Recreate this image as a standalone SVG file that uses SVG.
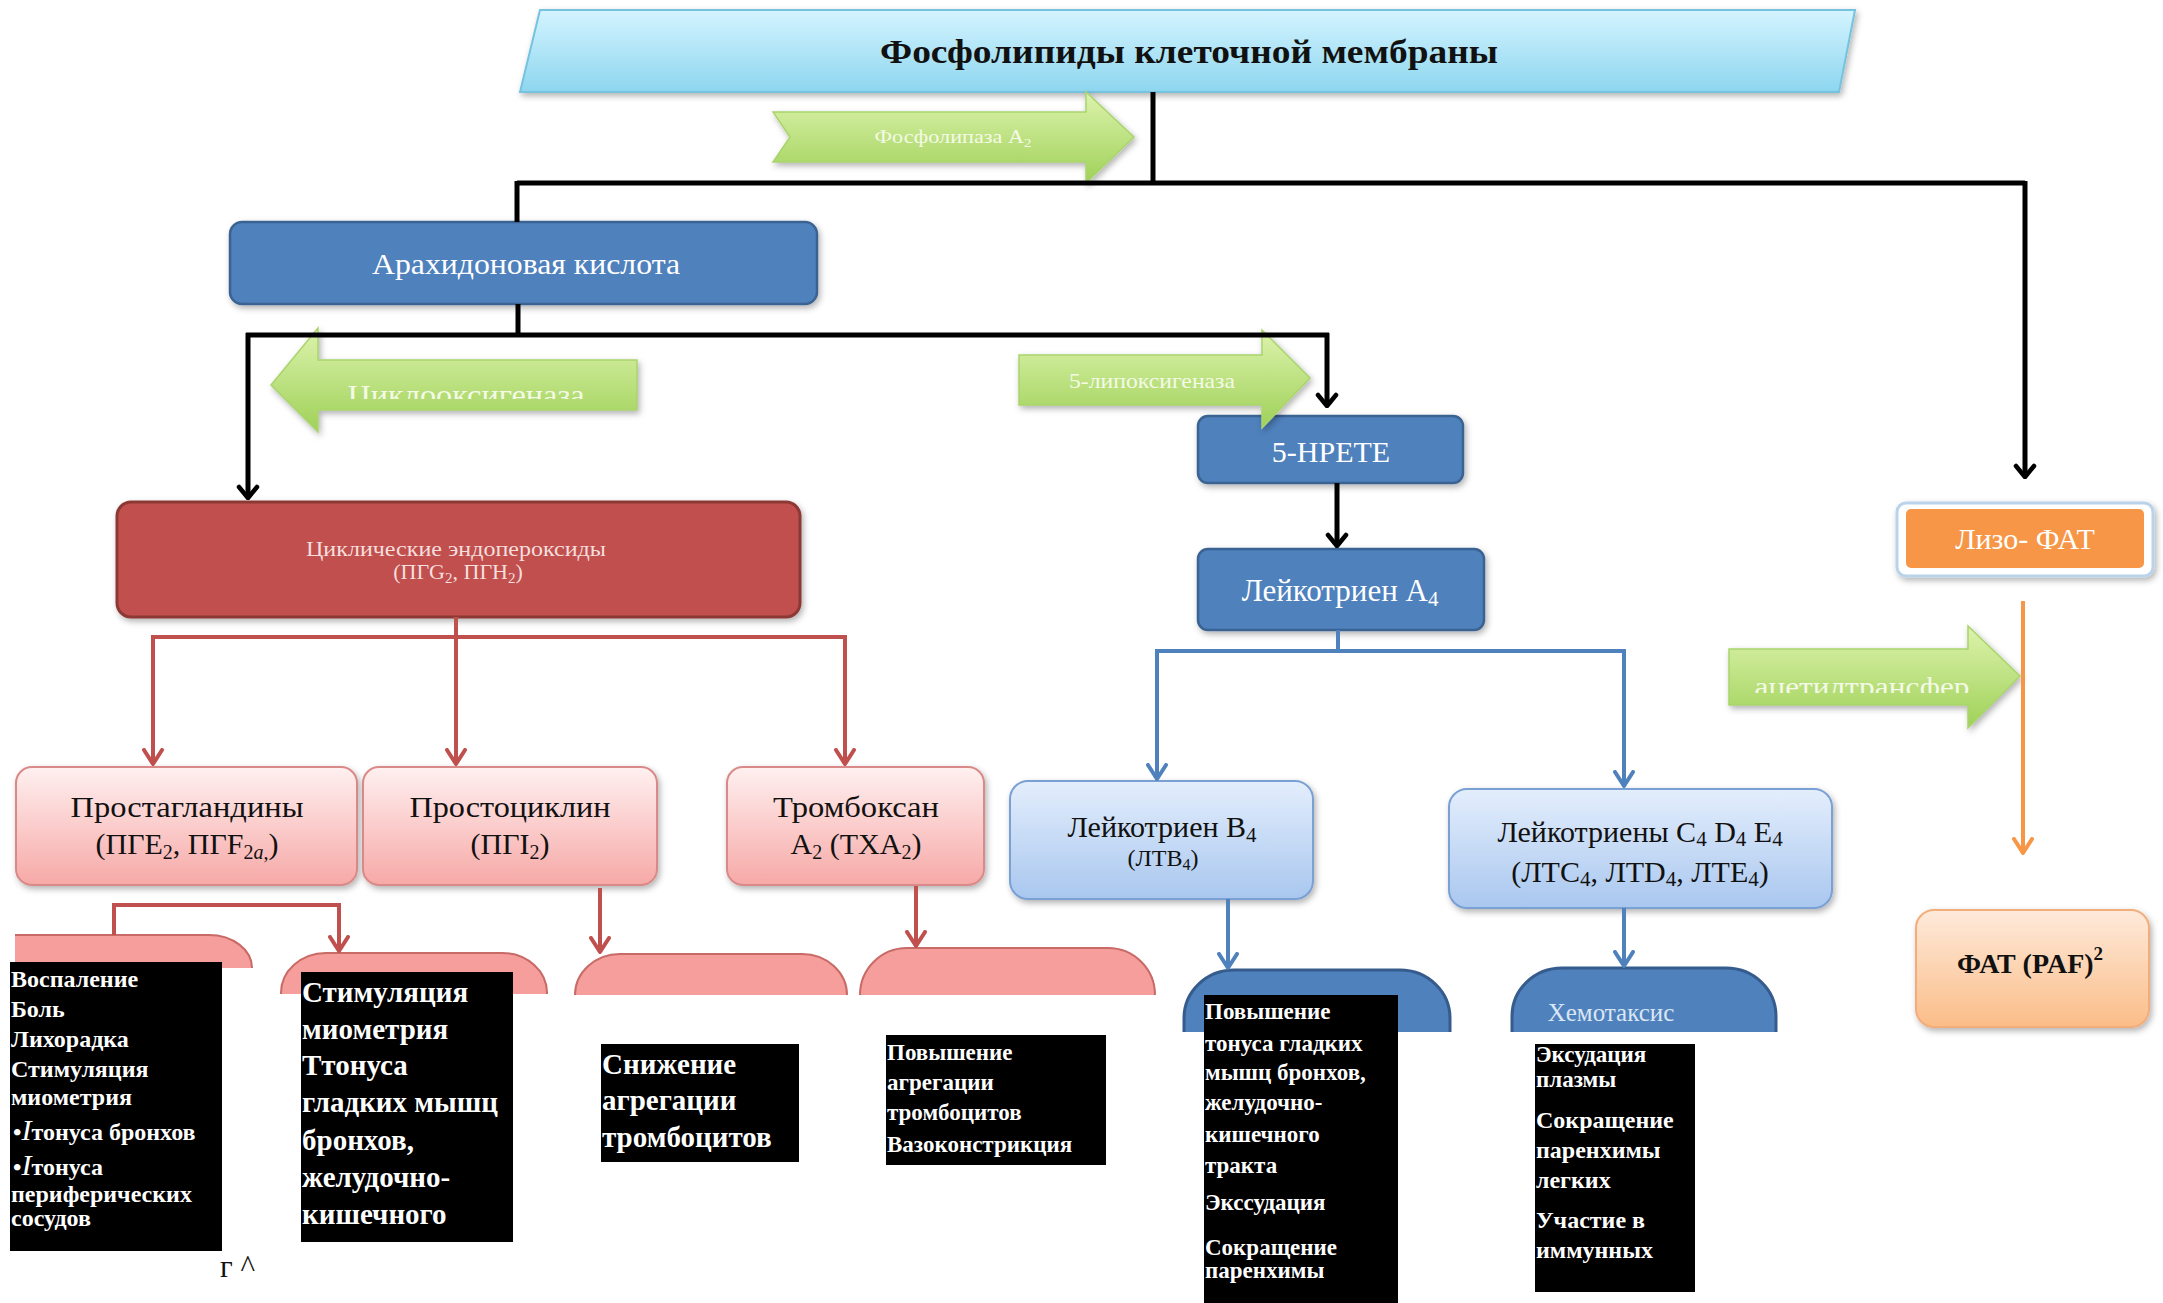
<svg xmlns="http://www.w3.org/2000/svg" width="2163" height="1303" viewBox="0 0 2163 1303">
<defs>
  <linearGradient id="gBanner" x1="0" y1="0" x2="0" y2="1"><stop offset="0" stop-color="#d4f4ff"/><stop offset="1" stop-color="#8dd6ef"/></linearGradient>
  <linearGradient id="gGreen" x1="0" y1="0" x2="0" y2="1"><stop offset="0" stop-color="#ddf3ad"/><stop offset="1" stop-color="#9fd158"/></linearGradient>
  <linearGradient id="gPink" x1="0" y1="0" x2="0" y2="1"><stop offset="0" stop-color="#fff0f0"/><stop offset="1" stop-color="#f6a9a7"/></linearGradient>
  <linearGradient id="gLBlue" x1="0" y1="0" x2="0" y2="1"><stop offset="0" stop-color="#e4eefc"/><stop offset="1" stop-color="#a9c7ef"/></linearGradient>
  <linearGradient id="gPaf" x1="0" y1="0" x2="0" y2="1"><stop offset="0" stop-color="#feeadb"/><stop offset="1" stop-color="#fbbd88"/></linearGradient>
  <filter id="sh" x="-10%" y="-10%" width="120%" height="130%"><feDropShadow dx="2" dy="3" stdDeviation="3" flood-color="#000" flood-opacity="0.3"/></filter>
  <marker id="mBk" viewBox="-14 -12 16 24" markerWidth="16" markerHeight="24" markerUnits="userSpaceOnUse" orient="auto" refX="0" refY="0"><path d="M-11,-9 L0,0 L-11,9" fill="none" stroke="#000" stroke-width="4.5" stroke-linecap="round" stroke-linejoin="round"/></marker>
  <marker id="mRd" viewBox="-16 -12 18 24" markerWidth="18" markerHeight="24" markerUnits="userSpaceOnUse" orient="auto" refX="0" refY="0"><path d="M-14,-9 L0,0 L-14,9" fill="none" stroke="#c0504d" stroke-width="4" stroke-linecap="round" stroke-linejoin="round"/></marker>
  <marker id="mBl" viewBox="-16 -12 18 24" markerWidth="18" markerHeight="24" markerUnits="userSpaceOnUse" orient="auto" refX="0" refY="0"><path d="M-14,-9 L0,0 L-14,9" fill="none" stroke="#4f81bd" stroke-width="4" stroke-linecap="round" stroke-linejoin="round"/></marker>
  <marker id="mOr" viewBox="-16 -12 18 24" markerWidth="18" markerHeight="24" markerUnits="userSpaceOnUse" orient="auto" refX="0" refY="0"><path d="M-14,-9 L0,0 L-14,9" fill="none" stroke="#f79646" stroke-width="4" stroke-linecap="round" stroke-linejoin="round"/></marker>
  <clipPath id="cCyc"><rect x="318" y="360" width="319" height="39"/></clipPath>
  <clipPath id="cAce"><rect x="1729" y="649" width="300" height="44"/></clipPath>
</defs>
<style>
  text { font-family: "Liberation Serif", "Times New Roman", serif; }
  .dk { fill: #4f81bd; stroke: #3a6392; stroke-width: 2.5; }
  .pk { fill: url(#gPink); stroke: #d98a88; stroke-width: 2; }
  .lb { fill: url(#gLBlue); stroke: #7aa0d4; stroke-width: 2; }
  .gr { fill: url(#gGreen); stroke: #a9d46c; stroke-width: 1.5; }
  .tab { fill: #f59e9b; }
  .tabs { fill: none; stroke: #c86a66; stroke-width: 2; }
  .btab { fill: #4f81bd; }
  .btabs { fill: none; stroke: #355c8c; stroke-width: 3; }
  .wt { fill: #ffffff; }
  .dt { fill: #111111; }
  .et { fill: #f4fae6; }
  .blk { fill: #000000; }
  .bt { fill: #ffffff; font-weight: bold; }
  .kb { stroke: #000; stroke-width: 5; fill: none; }
  .kr { stroke: #c0504d; stroke-width: 4; fill: none; }
  .kl { stroke: #4f81bd; stroke-width: 4; fill: none; }
  .ko { stroke: #f79646; stroke-width: 4; fill: none; }
</style>
<rect width="2163" height="1303" fill="#ffffff"/>

<g id="nodes">
  <g id="n-phospholipids">
    <polygon points="540,10 1855,10 1839,92 520,92" fill="url(#gBanner)" stroke="#74c3df" stroke-width="2" filter="url(#sh)"/>
    <text x="1189" y="63" font-size="34" font-weight="bold" text-anchor="middle" class="dt" textLength="618" lengthAdjust="spacingAndGlyphs">Фосфолипиды клеточной мембраны</text>
  </g>
  <g id="n-arachidonic">
    <rect x="230" y="222" width="587" height="82" rx="12" class="dk" filter="url(#sh)"/>
    <text x="526" y="274" font-size="30" text-anchor="middle" class="wt" textLength="308" lengthAdjust="spacingAndGlyphs">Арахидоновая кислота</text>
  </g>
  <g id="n-hpete">
    <rect x="1198" y="416" width="265" height="67" rx="10" class="dk" filter="url(#sh)"/>
    <text x="1331" y="462" font-size="30" text-anchor="middle" class="wt">5-HPETE</text>
  </g>
  <g id="n-lta4">
    <rect x="1198" y="549" width="286" height="81" rx="10" class="dk" filter="url(#sh)"/>
    <text x="1340" y="601" font-size="31" text-anchor="middle" class="wt">Лейкотриен A<tspan font-size="21" dy="5">4</tspan></text>
  </g>
  <g id="n-cyclic">
    <rect x="117" y="502" width="683" height="115" rx="14" fill="#c0504d" stroke="#8c3836" stroke-width="3" filter="url(#sh)"/>
    <text x="456" y="556" font-size="22" text-anchor="middle" fill="#f5dedd" textLength="300" lengthAdjust="spacingAndGlyphs">Циклические эндопероксиды</text>
    <text x="458" y="579" font-size="22" text-anchor="middle" fill="#f5dedd">(ПГG<tspan font-size="15" dy="4">2</tspan><tspan dy="-4">, ПГН</tspan><tspan font-size="15" dy="4">2</tspan><tspan dy="-4">)</tspan></text>
  </g>
  <g id="n-pg">
    <rect x="16" y="767" width="341" height="118" rx="16" class="pk" filter="url(#sh)"/>
    <text x="187" y="817" font-size="30" text-anchor="middle" class="dt" textLength="233" lengthAdjust="spacingAndGlyphs">Простагландины</text>
    <text x="187" y="854" font-size="30" text-anchor="middle" class="dt">(ПГE<tspan font-size="20" dy="5">2</tspan><tspan dy="-5">, ПГF</tspan><tspan font-size="20" dy="5">2<tspan font-style="italic">a</tspan>,</tspan><tspan dy="-5">)</tspan></text>
  </g>
  <g id="n-pgi">
    <rect x="363" y="767" width="294" height="118" rx="16" class="pk" filter="url(#sh)"/>
    <text x="510" y="817" font-size="30" text-anchor="middle" class="dt" textLength="201" lengthAdjust="spacingAndGlyphs">Простоциклин</text>
    <text x="510" y="854" font-size="30" text-anchor="middle" class="dt">(ПГI<tspan font-size="20" dy="5">2</tspan><tspan dy="-5">)</tspan></text>
  </g>
  <g id="n-txa">
    <rect x="727" y="767" width="257" height="118" rx="16" class="pk" filter="url(#sh)"/>
    <text x="856" y="817" font-size="30" text-anchor="middle" class="dt" textLength="166" lengthAdjust="spacingAndGlyphs">Тромбоксан</text>
    <text x="856" y="854" font-size="30" text-anchor="middle" class="dt">A<tspan font-size="20" dy="5">2</tspan><tspan dy="-5"> (TXA</tspan><tspan font-size="20" dy="5">2</tspan><tspan dy="-5">)</tspan></text>
  </g>
  <g id="n-ltb4">
    <rect x="1010" y="781" width="303" height="118" rx="18" class="lb" filter="url(#sh)"/>
    <text x="1162" y="837" font-size="30" text-anchor="middle" class="dt">Лейкотриен B<tspan font-size="21" dy="5">4</tspan></text>
    <text x="1163" y="866" font-size="24" text-anchor="middle" class="dt">(ЛТВ<tspan font-size="16" dy="4">4</tspan><tspan dy="-4">)</tspan></text>
  </g>
  <g id="n-ltc4">
    <rect x="1449" y="789" width="383" height="119" rx="18" class="lb" filter="url(#sh)"/>
    <text x="1640" y="842" font-size="30" text-anchor="middle" class="dt">Лейкотриены C<tspan font-size="21" dy="4">4</tspan><tspan dy="-4"> D</tspan><tspan font-size="21" dy="4">4</tspan><tspan dy="-4"> E</tspan><tspan font-size="21" dy="4">4</tspan></text>
    <text x="1640" y="882" font-size="30" text-anchor="middle" class="dt">(ЛТС<tspan font-size="21" dy="4">4</tspan><tspan dy="-4">, ЛТD</tspan><tspan font-size="21" dy="4">4</tspan><tspan dy="-4">, ЛТE</tspan><tspan font-size="21" dy="4">4</tspan><tspan dy="-4">)</tspan></text>
  </g>
  <g id="n-lysopaf">
    <rect x="1897" y="503" width="256" height="73" rx="9" fill="#ffffff" stroke="#b9d3ea" stroke-width="3" filter="url(#sh)"/>
    <rect x="1906" y="509" width="238" height="59" rx="5" fill="#f79646"/>
    <text x="2025" y="549" font-size="30" text-anchor="middle" class="wt">Лизо- ФАТ</text>
  </g>
  <g id="n-paf">
    <rect x="1916" y="910" width="233" height="117" rx="18" fill="url(#gPaf)" stroke="#f2ad7a" stroke-width="2" filter="url(#sh)"/>
    <text x="2030" y="973" font-size="28" font-weight="bold" text-anchor="middle" class="dt">ФАТ (PAF)<tspan font-size="19" dy="-13">2</tspan></text>
  </g>

  <g id="n-tab1">
    <path class="tab" d="M15,968 V935 H209 A43,33 0 0 1 252,968 Z"/>
    <path class="tabs" d="M15,935 H209 A43,33 0 0 1 252,968"/>
  </g>
  <g id="n-tab2">
    <path class="tab" d="M281,994 A45,40 0 0 1 326,953 H502 A45,40 0 0 1 547,994 Z"/>
    <path class="tabs" d="M281,994 A45,40 0 0 1 326,953 H502 A45,40 0 0 1 547,994"/>
  </g>
  <g id="n-tab3">
    <path class="tab" d="M575,995 A45,41 0 0 1 620,954 H802 A45,41 0 0 1 847,995 Z"/>
    <path class="tabs" d="M575,995 A45,41 0 0 1 620,954 H802 A45,41 0 0 1 847,995"/>
  </g>
  <g id="n-tab4">
    <path class="tab" d="M860,995 A47,47 0 0 1 907,948 H1108 A47,47 0 0 1 1155,995 Z"/>
    <path class="tabs" d="M860,995 A47,47 0 0 1 907,948 H1108 A47,47 0 0 1 1155,995"/>
  </g>
  <g id="n-btab1">
    <path class="btab" d="M1184,1032 V1018 A50,48 0 0 1 1234,970 H1400 A50,48 0 0 1 1450,1018 V1032 Z"/>
    <path class="btabs" d="M1184,1032 V1018 A50,48 0 0 1 1234,970 H1400 A50,48 0 0 1 1450,1018 V1032"/>
  </g>
  <g id="n-chemotaxis">
    <path class="btab" d="M1512,1032 V1016 A50,48 0 0 1 1562,968 H1726 A50,48 0 0 1 1776,1016 V1032 Z"/>
    <path class="btabs" d="M1512,1032 V1016 A50,48 0 0 1 1562,968 H1726 A50,48 0 0 1 1776,1016 V1032"/>
    <text x="1611" y="1021" font-size="25" text-anchor="middle" fill="#dbe6f4">Хемотаксис</text>
  </g>
</g>

<g id="enzymes">
  <g id="e-pla2">
    <polygon class="gr" points="773,112 1086,112 1086,92 1134,137 1086,183 1086,162 773,162 790,137" filter="url(#sh)"/>
    <text x="953" y="143" font-size="18" text-anchor="middle" class="et" textLength="157" lengthAdjust="spacingAndGlyphs">Фосфолипаза  A<tspan font-size="12" dy="4">2</tspan></text>
  </g>
  <g id="e-cox">
    <polygon class="gr" points="271,385 318,328 318,360 637,360 637,410 318,410 318,432" filter="url(#sh)"/>
    <g clip-path="url(#cCyc)">
      <text x="466" y="405" font-size="30" text-anchor="middle" class="et" textLength="237" lengthAdjust="spacingAndGlyphs">Циклооксигеназа</text>
    </g>
  </g>
  <g id="e-lox">
    <polygon class="gr" points="1019,355 1262,355 1262,330 1310,378 1262,428 1262,405 1019,405" filter="url(#sh)"/>
    <text x="1152" y="388" font-size="22" text-anchor="middle" class="et" textLength="166" lengthAdjust="spacingAndGlyphs">5-липоксигеназа</text>
  </g>
  <g id="e-acetyl">
    <polygon class="gr" points="1729,649 1968,649 1968,626 2020,676 1968,728 1968,705 1729,705" filter="url(#sh)"/>
    <g clip-path="url(#cAce)">
      <text x="1862" y="696" font-size="28" text-anchor="middle" class="et" textLength="215" lengthAdjust="spacingAndGlyphs">ацетилтрансфер</text>
    </g>
  </g>
</g>

<g id="connectors">
  <path class="kb" d="M1153,92 V183"/>
  <path class="kb" d="M517,183 H2025"/>
  <path class="kb" d="M517,181 V222"/>
  <path class="kb" d="M2025,181 V477" marker-end="url(#mBk)"/>
  <path class="kb" d="M518,304 V335"/>
  <path class="kb" d="M246,335 H1329"/>
  <path class="kb" d="M248,333 V498" marker-end="url(#mBk)"/>
  <path class="kb" d="M1327,333 V406" marker-end="url(#mBk)"/>
  <path class="kb" d="M1337,483 V546" marker-end="url(#mBk)"/>

  <path class="kr" d="M456,617 V637"/>
  <path class="kr" d="M153,637 H847"/>
  <path class="kr" d="M153,635 V764" marker-end="url(#mRd)"/>
  <path class="kr" d="M456,637 V764" marker-end="url(#mRd)"/>
  <path class="kr" d="M845,635 V764" marker-end="url(#mRd)"/>
  <path class="kr" d="M114,935 V905 H339 V951" marker-end="url(#mRd)"/>
  <path class="kr" d="M600,888 V952" marker-end="url(#mRd)"/>
  <path class="kr" d="M916,886 V946" marker-end="url(#mRd)"/>

  <path class="kl" d="M1338,630 V651"/>
  <path class="kl" d="M1155,651 H1626"/>
  <path class="kl" d="M1157,649 V779" marker-end="url(#mBl)"/>
  <path class="kl" d="M1624,649 V786" marker-end="url(#mBl)"/>
  <path class="kl" d="M1228,899 V968" marker-end="url(#mBl)"/>
  <path class="kl" d="M1624,908 V966" marker-end="url(#mBl)"/>

  <path class="ko" d="M2023,601 V853" marker-end="url(#mOr)"/>
</g>

<g id="effects">
  <g id="t-pg">
    <rect x="10" y="962" width="212" height="289" class="blk"/>
    <text x="11" y="987" font-size="24" class="bt">Воспаление</text>
    <text x="11" y="1017" font-size="24" class="bt">Боль</text>
    <text x="11" y="1047" font-size="24" class="bt">Лихорадка</text>
    <text x="11" y="1077" font-size="24" class="bt">Стимуляция</text>
    <text x="11" y="1105" font-size="24" class="bt">миометрия</text>
    <text x="13" y="1140" font-size="24" class="bt">•<tspan font-style="italic" font-size="30" font-weight="normal">I</tspan>тонуса бронхов</text>
    <text x="13" y="1175" font-size="24" class="bt">•<tspan font-style="italic" font-size="30" font-weight="normal">I</tspan>тонуса</text>
    <text x="11" y="1202" font-size="24" class="bt">периферических</text>
    <text x="11" y="1226" font-size="24" class="bt">сосудов</text>
  </g>
  <g id="t-pg2">
    <rect x="301" y="972" width="212" height="270" class="blk"/>
    <text x="302" y="1002" font-size="29" class="bt">Стимуляция</text>
    <text x="302" y="1039" font-size="29" class="bt">миометрия</text>
    <text x="302" y="1075" font-size="29" class="bt">Ттонуса</text>
    <text x="302" y="1112" font-size="29" class="bt">гладких мышц</text>
    <text x="302" y="1150" font-size="29" class="bt">бронхов,</text>
    <text x="302" y="1187" font-size="29" class="bt">желудочно-</text>
    <text x="302" y="1224" font-size="29" class="bt">кишечного</text>
  </g>
  <g id="t-pgi">
    <rect x="601" y="1044" width="198" height="118" class="blk"/>
    <text x="602" y="1074" font-size="29" class="bt">Снижение</text>
    <text x="602" y="1110" font-size="29" class="bt">агрегации</text>
    <text x="602" y="1147" font-size="29" class="bt">тромбоцитов</text>
  </g>
  <g id="t-txa">
    <rect x="886" y="1035" width="220" height="130" class="blk"/>
    <text x="887" y="1060" font-size="23" class="bt">Повышение</text>
    <text x="887" y="1090" font-size="23" class="bt">агрегации</text>
    <text x="887" y="1120" font-size="23" class="bt">тромбоцитов</text>
    <text x="887" y="1152" font-size="23" class="bt">Вазоконстрикция</text>
  </g>
  <g id="t-ltb4">
    <rect x="1204" y="995" width="194" height="308" class="blk"/>
    <text x="1205" y="1019" font-size="23" class="bt">Повышение</text>
    <text x="1205" y="1051" font-size="23" class="bt">тонуса гладких</text>
    <text x="1205" y="1080" font-size="23" class="bt">мышц бронхов,</text>
    <text x="1205" y="1110" font-size="23" class="bt">желудочно-</text>
    <text x="1205" y="1142" font-size="23" class="bt">кишечного</text>
    <text x="1205" y="1173" font-size="23" class="bt">тракта</text>
    <text x="1205" y="1210" font-size="23" class="bt">Экссудация</text>
    <text x="1205" y="1255" font-size="23" class="bt">Сокращение</text>
    <text x="1205" y="1278" font-size="23" class="bt">паренхимы</text>
  </g>
  <g id="t-ltc4">
    <rect x="1535" y="1044" width="160" height="248" class="blk"/>
    <text x="1536" y="1062" font-size="23" class="bt">Эксудация</text>
    <text x="1536" y="1087" font-size="23" class="bt">плазмы</text>
    <text x="1536" y="1128" font-size="24" class="bt">Сокращение</text>
    <text x="1536" y="1158" font-size="24" class="bt">паренхимы</text>
    <text x="1536" y="1188" font-size="24" class="bt">легких</text>
    <text x="1536" y="1228" font-size="24" class="bt">Участие в</text>
    <text x="1536" y="1258" font-size="24" class="bt">иммунных</text>
  </g>
  <text id="note" x="220" y="1277" font-size="31" class="dt">г ^</text>
</g>
</svg>
